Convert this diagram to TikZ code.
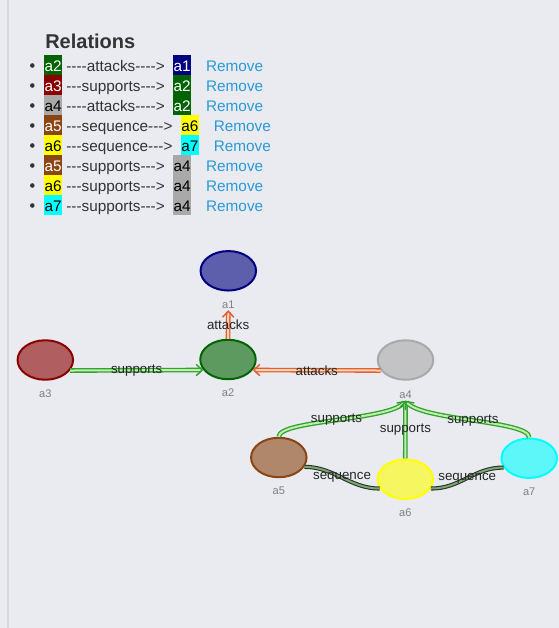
\documentclass[tikz,border=0pt]{standalone}
\usepackage{fontspec}
\setmainfont{Liberation Sans}[Ligatures=TeXOff]
\usetikzlibrary{positioning,arrows.meta,shapes.geometric}
\definecolor{bg}{RGB}{234,235,240}
\definecolor{rule}{RGB}{216,217,222}
\definecolor{txt}{RGB}{51,51,51}
\definecolor{lnk}{RGB}{40,154,214}
\definecolor{dgreen}{RGB}{0,100,0}
\definecolor{navyb}{RGB}{0,0,128}
\definecolor{dred}{RGB}{139,0,0}
\definecolor{dgray}{RGB}{169,169,169}
\definecolor{sbrown}{RGB}{139,69,19}
\definecolor{yel}{RGB}{255,255,0}
\definecolor{aqua}{RGB}{0,255,255}
\definecolor{attk}{RGB}{226,94,58}
\definecolor{attkin}{RGB}{250,214,170}
\definecolor{supp}{RGB}{50,160,50}
\definecolor{suppin}{RGB}{190,240,170}
\definecolor{seqout}{RGB}{45,45,45}
\definecolor{seqin}{RGB}{120,170,110}
\begin{document}
\begin{tikzpicture}[x=0.75pt,y=-0.75pt,
	row/.style={inner xsep=0.2pt,inner ysep=0pt,text height=12pt,text depth=3pt,font=\fontsize{11.5}{13}\selectfont,text=txt},
	tag/.style={row,fill=#1,text=white},
	tagk/.style={row,fill=#1,text=black},
	rm/.style={row,text=lnk},
	arg/.style={ellipse,draw=#1,fill=#1,fill opacity=0.6,line width=1.5pt,minimum width=41.6pt,minimum height=29.6pt,inner sep=0pt},
	albl/.style={font=\fontsize{8.3}{10}\selectfont,text=gray,inner sep=0pt,outer sep=1.5pt},
	elbl/.style={font=\fontsize{10}{12}\selectfont,text=black!85,inner sep=1pt},
	att/.style={draw=attk,double=attkin,line width=1pt,double distance=1.5pt,-{Straight Barb[length=4.5pt,width=8.5pt,line width=1.1pt]}},
	sup/.style={draw=supp,double=suppin,line width=1pt,double distance=1.5pt,-{Straight Barb[length=4.5pt,width=8.5pt,line width=1.1pt]}},
	seq/.style={draw=seqout,double=seqin,line width=0.8pt,double distance=1.5pt}]
	\fill[bg] (0,0) rectangle (559,628);
	\useasboundingbox (0,0) rectangle (559,628);
	\fill[rule] (7,0) rectangle (9,628);

	\node[anchor=base west,inner sep=0pt,text=txt,font=\bfseries\fontsize{15}{18}\selectfont] (h) at (45,48.3) {Relations};

	\node[tag=dgreen,anchor=west] (r1a) at (44,65.3) {a2};
	\node[row,right=2.8pt of r1a] (r1b) {----attacks---->};
	\node[tag=navyb,right=5.8pt of r1b] (r1c) {a1};
	\node[rm,right=10.8pt of r1c] (r1d) {Remove};

	\node[tag=dred,anchor=west] (r2a) at (44,85.3) {a3};
	\node[row,right=2.8pt of r2a] (r2b) {---supports--->};
	\node[tag=dgreen,right=5.8pt of r2b] (r2c) {a2};
	\node[rm,right=10.8pt of r2c] (r2d) {Remove};

	\node[tagk=dgray,anchor=west] (r3a) at (44,105.3) {a4};
	\node[row,right=2.8pt of r3a] (r3b) {----attacks---->};
	\node[tag=dgreen,right=5.8pt of r3b] (r3c) {a2};
	\node[rm,right=10.8pt of r3c] (r3d) {Remove};

	\node[tag=sbrown,anchor=west] (r4a) at (44,125.3) {a5};
	\node[row,right=2.8pt of r4a] (r4b) {---sequence--->};
	\node[tagk=yel,right=5.8pt of r4b] (r4c) {a6};
	\node[rm,right=10.8pt of r4c] (r4d) {Remove};

	\node[tagk=yel,anchor=west] (r5a) at (44,145.3) {a6};
	\node[row,right=2.8pt of r5a] (r5b) {---sequence--->};
	\node[tagk=aqua,right=5.8pt of r5b] (r5c) {a7};
	\node[rm,right=10.8pt of r5c] (r5d) {Remove};

	\node[tag=sbrown,anchor=west] (r6a) at (44,165.3) {a5};
	\node[row,right=2.8pt of r6a] (r6b) {---supports--->};
	\node[tagk=dgray,right=5.8pt of r6b] (r6c) {a4};
	\node[rm,right=10.8pt of r6c] (r6d) {Remove};

	\node[tagk=yel,anchor=west] (r7a) at (44,185.3) {a6};
	\node[row,right=2.8pt of r7a] (r7b) {---supports--->};
	\node[tagk=dgray,right=5.8pt of r7b] (r7c) {a4};
	\node[rm,right=10.8pt of r7c] (r7d) {Remove};

	\node[tagk=aqua,anchor=west] (r8a) at (44,205.3) {a7};
	\node[row,right=2.8pt of r8a] (r8b) {---supports--->};
	\node[tagk=dgray,right=5.8pt of r8b] (r8c) {a4};
	\node[rm,right=10.8pt of r8c] (r8d) {Remove};

	\foreach \y in {65.5,85.5,105.5,125.5,145.5,165.5,185.5,205.5}
		\fill[txt] (32.3,\y) circle (2.3);

	\node[arg=navyb] (a) at (228.3,270.8) {};
	\node[arg=dgreen] (b) at (228,359.5) {};
	\node[arg=dred] (c) at (45.3,360) {};
	\node[arg=dgray] (d) at (405.5,360) {};
	\node[arg=sbrown] (e) at (278.8,457.5) {};
	\node[arg=yel] (f) at (405.3,479.2) {};
	\node[arg=aqua] (g) at (529.2,458.2) {};

	\node[albl,below=5.2pt of a] (la) {a1};
	\node[albl,below=5.2pt of b] (lb) {a2};
	\node[albl,below=5.2pt of c] (lc) {a3};
	\node[albl,below=6.2pt of d] (ld) {a4};
	\node[albl,below=5.2pt of e] (le) {a5};
	\node[albl,below=5.2pt of f] (lf) {a6};
	\node[albl,below=5.2pt of g] (lg) {a7};

	\draw[att] (b.north) -- (la.south) node[elbl,midway] {attacks};
	\draw[sup] (c.-23) -- (b.203) node[elbl,midway] {supports};
	\draw[att] (d.203) -- (b.-23) node[elbl,midway] {attacks};
	\draw[sup] (e.north) .. controls +(0,-17) and +(-15,20) .. (ld.south) node[elbl,midway] {supports};
	\draw[sup] (f.north) -- (ld.south) node[elbl,midway] {supports};
	\draw[sup] (g.north) .. controls +(0,-17) and +(15,20) .. (ld.south) node[elbl,midway] {supports};
	\draw[seq] (e.-20) .. controls +(30,0) and +(-30,0) .. (f.200) node[elbl,midway] {sequence};
	\draw[seq] (f.-20) .. controls +(30,0) and +(-30,0) .. (g.200) node[elbl,midway] {sequence};
\end{tikzpicture}
\end{document}
